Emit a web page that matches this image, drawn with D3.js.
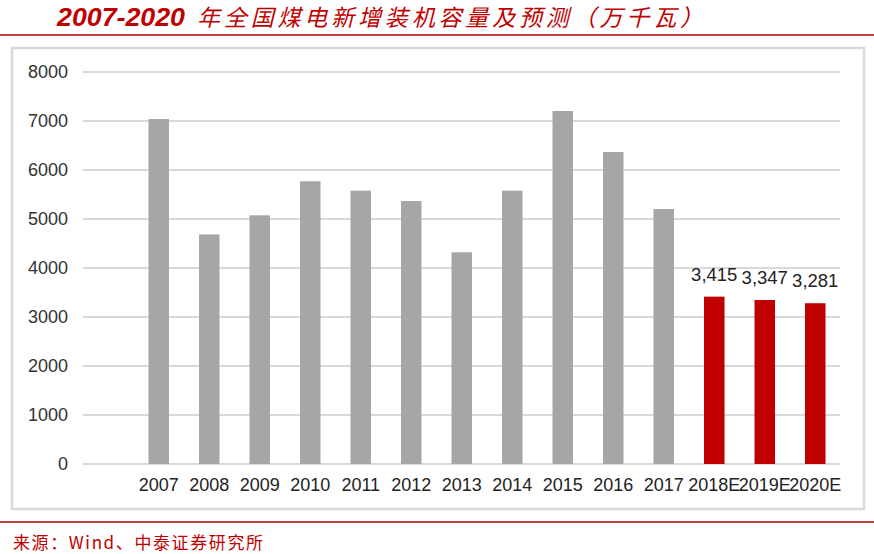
<!DOCTYPE html>
<html>
<head>
<meta charset="utf-8">
<script src="https://cdn.jsdelivr.net/npm/d3@7/dist/d3.min.js"></script>
<style>
  html, body { margin: 0; padding: 0; background: #fff; }
  svg { display: block; }
</style>
</head>
<body>
<svg id="chart" width="874" height="554"></svg>
<script>
// ---- data ----
const categories = ["2007","2008","2009","2010","2011","2012","2013","2014","2015","2016","2017","2018E","2019E","2020E"];
const values = [7040, 4685, 5075, 5770, 5578, 5367, 4320, 5578, 7204, 6367, 5204, 3415, 3347, 3281];
const forecast = [false,false,false,false,false,false,false,false,false,false,false,true,true,true];
const yTicks = [0, 1000, 2000, 3000, 4000, 5000, 6000, 7000, 8000];
const titleNum = "2007-2020";
const titleCn = "年全国煤电新增装机容量及预测（万千瓦）";
const sourceText = "来源：Wind、中泰证券研究所";

const svg = d3.select("#chart");
const red = "#c00000";

// title
svg.append("text").attr("x", 57).attr("y", 26)
  .attr("font-family", "'Liberation Sans', Arial, sans-serif")
  .attr("font-weight", "bold").attr("font-style", "italic")
  .attr("font-size", 26).attr("fill", red)
  .attr("textLength", 128).attr("lengthAdjust", "spacingAndGlyphs").text(titleNum);
svg.append("text").attr("x", 197).attr("y", 26)
  .attr("font-family", "'Noto Sans CJK SC', sans-serif")
  .attr("font-style", "italic")
  .attr("font-size", 23).attr("fill", red)
  .attr("textLength", 506).attr("lengthAdjust", "spacing").text(titleCn);
svg.append("line").attr("x1", 0).attr("x2", 874).attr("y1", 35).attr("y2", 35)
  .attr("stroke", "#b00000").attr("stroke-width", 1.5);

// chart frame
svg.append("rect").attr("x", 12).attr("y", 48).attr("width", 852).attr("height", 461)
  .attr("fill", "#fff").attr("stroke", "#d9d9d9").attr("stroke-width", 2.5);

// footer
svg.append("line").attr("x1", 0).attr("x2", 874).attr("y1", 522).attr("y2", 522)
  .attr("stroke", "#b00000").attr("stroke-width", 1.5);
svg.append("text").attr("x", 13).attr("y", 549)
  .attr("font-family", "'Noto Sans CJK SC', sans-serif")
  .attr("font-size", 17).attr("fill", red)
  .attr("textLength", 250).attr("lengthAdjust", "spacing").text(sourceText);

// scales
const y = d3.scaleLinear().domain([0, 8000]).range([464, 72]);
const x = d3.scaleBand().domain(categories).range([133.5, 840.5])
  .paddingInner(0.594).paddingOuter(0.297);
const gridX1 = 83, gridX2 = 840;

// gridlines
svg.append("g").selectAll("line").data(yTicks).join("line")
  .attr("x1", gridX1).attr("x2", gridX2)
  .attr("y1", d => y(d)).attr("y2", d => y(d))
  .attr("stroke", "#d9d9d9").attr("stroke-width", 2);

// y axis labels
const yAxis = d3.axisLeft(y).tickValues(yTicks).tickSize(0).tickPadding(0).tickFormat(d3.format("d"));
const gy = svg.append("g").attr("transform", "translate(68,0)").call(yAxis);
gy.select(".domain").remove();
gy.selectAll("text").attr("font-family", "'Liberation Sans', Arial, sans-serif")
  .attr("font-size", 18).attr("fill", "#333");

// bars
svg.append("g").selectAll("rect").data(categories).join("rect")
  .attr("x", d => x(d)).attr("width", x.bandwidth())
  .attr("y", (d, i) => y(values[i])).attr("height", (d, i) => y(0) - y(values[i]))
  .attr("fill", (d, i) => forecast[i] ? red : "#a6a6a6");

// x axis labels
const xAxis = d3.axisBottom(x).tickSize(0).tickPadding(0);
const gx = svg.append("g").attr("transform", "translate(0,478)").call(xAxis);
gx.select(".domain").remove();
gx.selectAll("text").attr("dy", "0.71em").attr("font-family", "'Liberation Sans', Arial, sans-serif")
  .attr("font-size", 18).attr("fill", "#222");

// data labels for forecasts
svg.append("g").selectAll("text").data(categories.filter((d, i) => forecast[i])).join("text")
  .attr("x", d => x(d) + x.bandwidth() / 2)
  .attr("y", d => y(values[categories.indexOf(d)]) - 16)
  .attr("text-anchor", "middle")
  .attr("font-family", "'Liberation Sans', Arial, sans-serif")
  .attr("font-size", 18.5).attr("fill", "#222")
  .text(d => d3.format(",")(values[categories.indexOf(d)]));
</script>
</body>
</html>
